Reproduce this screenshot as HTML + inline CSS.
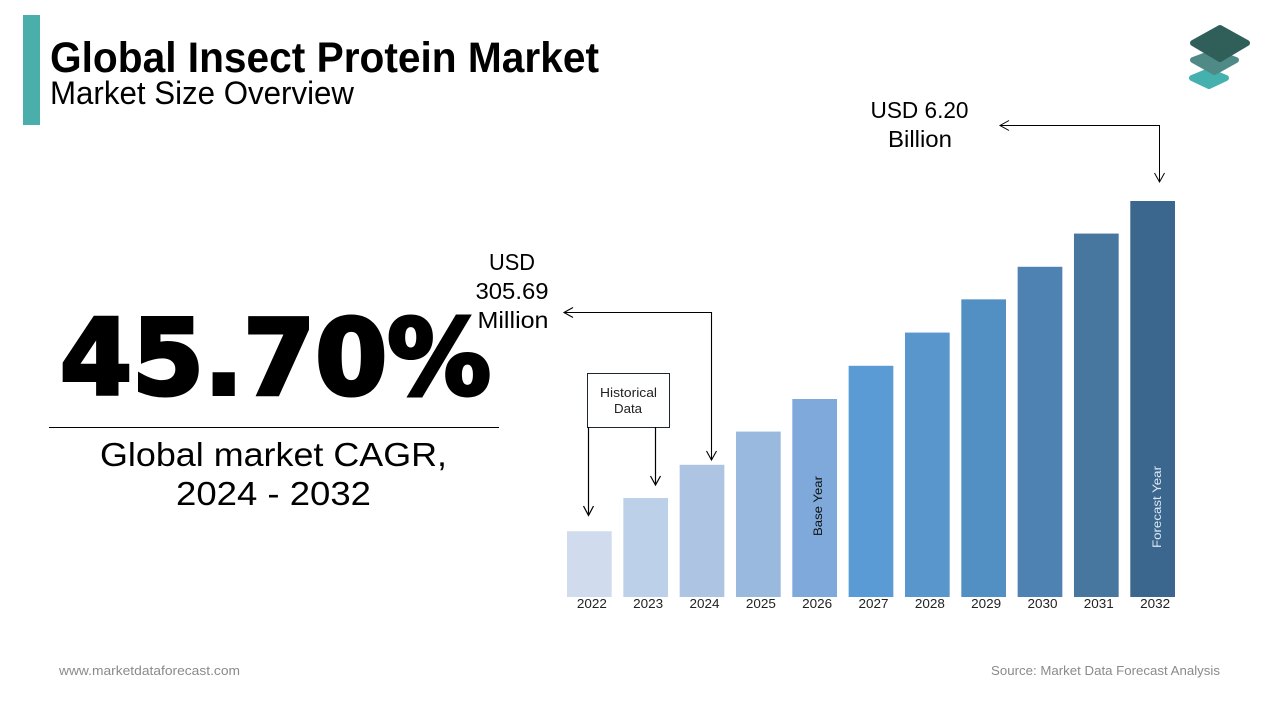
<!DOCTYPE html>
<html lang="en">
<head>
<meta charset="utf-8">
<title>Global Insect Protein Market</title>
<style>
html,body{margin:0;padding:0;background:#fff;}
svg{display:block;font-family:"Liberation Sans",sans-serif;}
</style>
</head>
<body>
<svg id="chart" xmlns="http://www.w3.org/2000/svg" width="1280" height="720" viewBox="0 0 1280 720">
  <rect width="1280" height="720" fill="#ffffff"/>
  <rect x="23" y="15" width="17" height="110" fill="#4aaeaa"/>
  <text x="50" y="72" font-size="43" font-weight="700" fill="#000" textLength="549" lengthAdjust="spacingAndGlyphs">Global Insect Protein Market</text>
  <text x="50" y="104" font-size="32" fill="#000" textLength="304" lengthAdjust="spacingAndGlyphs">Market Size Overview</text>

  <g stroke-linejoin="round" stroke-width="6">
    <polygon points="1209,71 1226,78 1209,86 1192,78" fill="#44b1ae" stroke="#44b1ae"/>
    <polygon points="1214.5,52 1236,60 1214.5,72 1193,60" fill="#4f8a86" stroke="#4f8a86"/>
    <polygon points="1220,28 1247,43 1220,59 1193,43" fill="#305f59" stroke="#305f59"/>
  </g>

  <text x="60" y="394" font-family="'DejaVu Sans',sans-serif" font-size="104" font-weight="700" fill="#000" stroke="#000" stroke-width="4" stroke-linejoin="miter" textLength="431" lengthAdjust="spacingAndGlyphs">45.70%</text>
  <line x1="49" y1="427.5" x2="499" y2="427.5" stroke="#000" stroke-width="1"/>
  <text x="100" y="466" font-size="33" fill="#000" textLength="347" lengthAdjust="spacingAndGlyphs">Global market CAGR,</text>
  <text x="176" y="505" font-size="33" fill="#000" textLength="195" lengthAdjust="spacingAndGlyphs">2024 - 2032</text>

  <g id="bars"></g>
  <g id="year-labels"></g>

  <text transform="translate(822 536) rotate(-90)" font-size="12" fill="#111" textLength="60" lengthAdjust="spacingAndGlyphs">Base Year</text>
  <text transform="translate(1161 548) rotate(-90)" font-size="12" fill="#dce8f4" textLength="82" lengthAdjust="spacingAndGlyphs">Forecast Year</text>

  <g>
    <rect x="587.5" y="373.5" width="82" height="54" fill="#fff" stroke="#1c2733" stroke-width="1"/>
    <text x="628.5" y="397" font-size="12.5" text-anchor="middle" fill="#222" textLength="57" lengthAdjust="spacingAndGlyphs">Historical</text>
    <text x="628" y="413" font-size="12.5" text-anchor="middle" fill="#222" textLength="28" lengthAdjust="spacingAndGlyphs">Data</text>
    <path d="M588.5 427V515M583.5 506L588.5 515.5L593.5 506" fill="none" stroke="#000" stroke-width="1.2"/>
    <path d="M655.5 427V484.5M650.5 476L655.5 485L660.5 476" fill="none" stroke="#000" stroke-width="1.2"/>
  </g>

  <g>
    <text x="512" y="270" font-size="23" text-anchor="middle" fill="#000" textLength="46" lengthAdjust="spacingAndGlyphs">USD</text>
    <text x="512" y="299" font-size="23" text-anchor="middle" fill="#000" textLength="73" lengthAdjust="spacingAndGlyphs">305.69</text>
    <text x="513" y="328" font-size="23" text-anchor="middle" fill="#000" textLength="71" lengthAdjust="spacingAndGlyphs">Million</text>
    <path d="M564 312.5H711.5V460M573 307.5L564 312.5L573 317.5M706.5 451L711.5 460L716.5 451" fill="none" stroke="#000" stroke-width="1.1"/>
  </g>

  <g>
    <text x="919.5" y="118" font-size="23" text-anchor="middle" fill="#000" textLength="98" lengthAdjust="spacingAndGlyphs">USD 6.20</text>
    <text x="920" y="147" font-size="23" text-anchor="middle" fill="#000" textLength="64" lengthAdjust="spacingAndGlyphs">Billion</text>
    <path d="M1000 125.5H1159.5V182M1009 120.5L1000 125.5L1009 130.5M1154.5 173L1159.5 182L1164.5 173" fill="none" stroke="#000" stroke-width="1"/>
  </g>

  <text x="59" y="675" font-size="13" fill="#8a8a8a" textLength="181" lengthAdjust="spacingAndGlyphs">www.marketdataforecast.com</text>
  <text x="991" y="675" font-size="13" fill="#8a8a8a" textLength="229" lengthAdjust="spacingAndGlyphs">Source: Market Data Forecast Analysis</text>
</svg>
<script>
const years = ["2022","2023","2024","2025","2026","2027","2028","2029","2030","2031","2032"];
const marketValues = [1.03,1.55,2.07,2.59,3.10,3.62,4.14,4.66,5.17,5.69,6.20];
const barColors = ["#d0dcee","#bdd0e9","#adc5e3","#99b9df","#7ea9da","#5b9bd5","#5896cc","#5290c3","#4d82b3","#47769f","#3b678f"];

const SVG_NS = "http://www.w3.org/2000/svg";
const plotLeft = 567, plotRight = 1175, plotBottom = 597, plotTop = 201;
const valueMax = 6.20;
const barWidth = 44.7;
const labelShift = 2.5;

function yScale(v) {
  return plotBottom - (v / valueMax) * (plotBottom - plotTop);
}
function xScale(i) {
  return plotLeft + i * (plotRight - plotLeft - barWidth) / (years.length - 1);
}

const barsGroup = document.getElementById("bars");
const labelsGroup = document.getElementById("year-labels");

years.forEach(function (year, i) {
  const y = yScale(marketValues[i]);
  const bar = document.createElementNS(SVG_NS, "rect");
  
  
  bar.setAttribute("x", xScale(i));
  bar.setAttribute("y", y);
  bar.setAttribute("width", barWidth);
  bar.setAttribute("height", plotBottom - y);
  bar.setAttribute("fill", barColors[i]);
  barsGroup.appendChild(bar);

  const label = document.createElementNS(SVG_NS, "text");
  
  
  label.setAttribute("x", xScale(i) + barWidth / 2 + labelShift);
  label.setAttribute("y", 608);
  label.setAttribute("font-size", "12.5");
  label.setAttribute("text-anchor", "middle");
  label.setAttribute("fill", "#222");
  label.setAttribute("textLength", "30");
  label.setAttribute("lengthAdjust", "spacingAndGlyphs");
  label.textContent = year;
  labelsGroup.appendChild(label);
});
</script>
</body>
</html>
